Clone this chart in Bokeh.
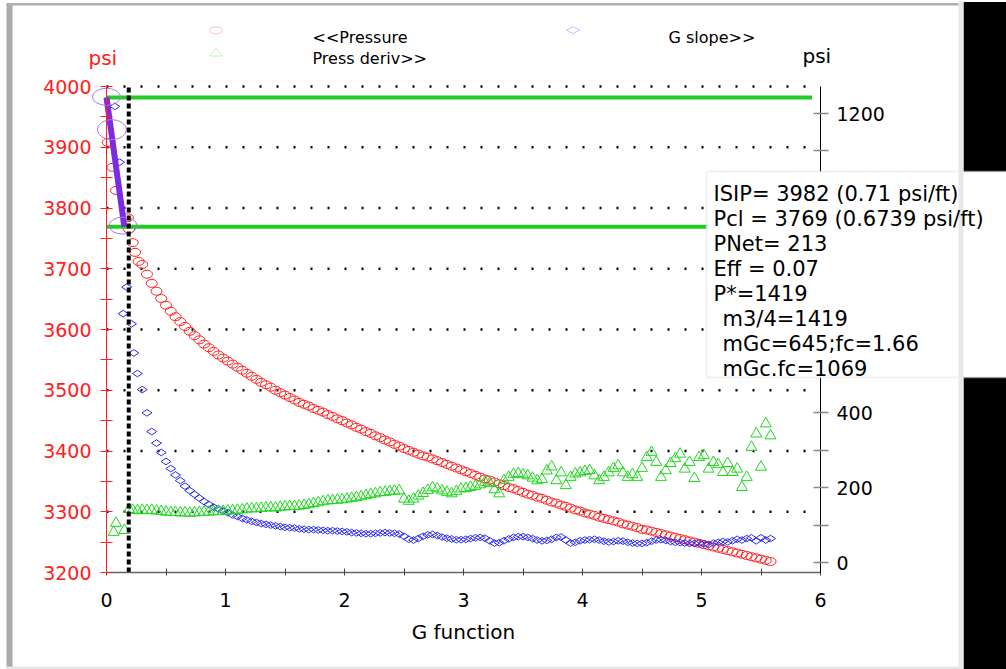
import numpy as np
from bokeh.plotting import figure
from bokeh.models import (Range1d, LinearAxis, FixedTicker, Label,
                          BoxAnnotation, PolyAnnotation, ColumnDataSource)
from bokeh.embed import file_html
from bokeh.resources import INLINE

# ---------------- data ----------------
# G-function sample positions shared by the three series (after the first few points)
g_main = [0.30, 0.34, 0.38, 0.42, 0.46, 0.50, 0.54, 0.58, 0.62, 0.66, 0.70, 0.74, 0.78, 0.82, 0.86, 0.90, 0.94, 0.98,
          1.02, 1.06, 1.10, 1.14, 1.18, 1.22, 1.26, 1.30, 1.34, 1.38, 1.42, 1.46, 1.50, 1.54, 1.58, 1.62, 1.66, 1.70,
          1.74, 1.78, 1.82, 1.86, 1.90, 1.94, 1.98,
          2.02, 2.06, 2.10, 2.14, 2.18, 2.22, 2.26, 2.30, 2.34, 2.38, 2.42, 2.46, 2.50, 2.54, 2.58, 2.62, 2.66, 2.70,
          2.74, 2.78, 2.82, 2.86, 2.90, 2.94, 2.98,
          3.02, 3.06, 3.10, 3.14, 3.18, 3.22, 3.26, 3.30, 3.34, 3.38, 3.42, 3.46, 3.50, 3.54, 3.58, 3.62, 3.66, 3.70,
          3.74, 3.78, 3.82, 3.86, 3.90, 3.94, 3.98,
          4.02, 4.06, 4.10, 4.14, 4.18, 4.22, 4.26, 4.30, 4.34, 4.38, 4.42, 4.46, 4.50, 4.54, 4.58, 4.62, 4.66, 4.70,
          4.74, 4.78, 4.82, 4.86, 4.90, 4.94, 4.98,
          5.02, 5.06, 5.10, 5.14, 5.18, 5.22, 5.26, 5.30, 5.34, 5.38, 5.42, 5.46, 5.50, 5.54, 5.58]

# Bottomhole pressure (psi, left axis)
pressure_early_g = [0.01, 0.05, 0.08, 0.18, 0.19, 0.22, 0.24, 0.27]
pressure_early = [3908, 3867, 3829, 3784, 3765, 3743, 3727, 3712]
pressure_main = [3707, 3691, 3676, 3663, 3651, 3640, 3630, 3621, 3613, 3605, 3597, 3590, 3583, 3576, 3570, 3564, 3558, 3553,
                 3548, 3543, 3538, 3533, 3528, 3523, 3518, 3513, 3509, 3505, 3500, 3496, 3492, 3488, 3484, 3480, 3477, 3474,
                 3470, 3467, 3464, 3460, 3457, 3453, 3450,
                 3446, 3443, 3439, 3436, 3432, 3429, 3425, 3422, 3418, 3415, 3411, 3408, 3404, 3401, 3398, 3395, 3392, 3390,
                 3387, 3384, 3381, 3378, 3375, 3372, 3369,
                 3366, 3363, 3360, 3357, 3354, 3352, 3349, 3346, 3343, 3340, 3338, 3335, 3332, 3329, 3327, 3324, 3322, 3319,
                 3316, 3314, 3311, 3309, 3306, 3303, 3301,
                 3298, 3296, 3294, 3291, 3289, 3287, 3285, 3283, 3280, 3278, 3276, 3274, 3271, 3270, 3268, 3266, 3264, 3262,
                 3260, 3258, 3256, 3254, 3252, 3250, 3248,
                 3246, 3244, 3242, 3240, 3238, 3236, 3234, 3232, 3230, 3228, 3226, 3224, 3222, 3220, 3218]

# G dP/dG (psi, right axis)
gslope_early_g = [0.07, 0.11, 0.14, 0.17, 0.21, 0.23, 0.26]
gslope_early = [1219, 1070, 665, 736, 638, 560, 505]
gslope_main = [462, 400, 350, 319, 294, 270, 251, 234, 219, 204, 192, 182, 172, 163, 155, 148, 143, 138,
               133, 127, 123, 118, 114, 110, 107, 104, 102, 100, 98, 96, 94, 93, 92, 90, 89, 88,
               88, 87, 86, 85, 85, 84, 83,
               82, 80, 79, 78, 77, 77, 78, 79, 80, 79, 78, 76, 70, 62, 60, 64, 70, 74,
               75, 72, 68, 65, 63, 61, 61,
               62, 64, 66, 67, 65, 58, 52, 53, 58, 63, 67, 69, 69, 67, 64, 60, 58, 59,
               62, 67, 68, 60, 52, 54, 58,
               60, 61, 62, 60, 57, 55, 56, 58, 57, 54, 52, 51, 51, 53, 57, 60, 61, 59,
               56, 54, 53, 52, 51, 51, 52,
               50, 48, 52, 54, 56, 55, 58, 62, 60, 64, 66, 58, 66, 60, 64]

# dP/dG (psi, right axis)
deriv_early_g = [0.06, 0.08, 0.15, 0.19, 0.22, 0.26]
deriv_early = [81, 105, 86, 142, 140, 139]
deriv_main = [140, 139, 140, 138, 137, 135, 134, 134, 133, 133, 132, 133, 134, 135, 135, 136, 137, 137,
              138, 139, 140, 141, 143, 144, 144, 145, 146, 147, 146, 148, 149, 150, 150, 151, 153, 155,
              158, 160, 163, 165, 166, 167, 168,
              170, 172, 174, 176, 179, 182, 184, 187, 188, 190, 191, 192, 170, 164, 170, 178, 185, 193,
              200, 197, 192, 188, 184, 190, 197,
              198, 201, 204, 208, 215, 212, 195, 184, 219, 228, 236, 238, 235, 232, 226, 219, 222, 245,
              256, 219, 240, 206, 228, 237, 240,
              244, 246, 232, 219, 228, 240, 252, 259, 240, 228, 235, 228, 252, 281, 295, 268, 228, 246,
              265, 278, 290, 250, 268, 225, 281,
              286, 250, 268, 262, 241, 265, 241, 250, 201, 228, 308, 344, 255, 371, 339]

# Interpretation results
isip = 3982
pcl = 3769
closure_g = 0.187
level_line_end_g = 5.93
fit_g = [0.0, 0.15]
fit_p = [isip, pcl]
pick_g = [0.0, 0.045, 0.139]
pick_p = [3983, 3929, 3771]

g_limits = (0, 6)
psi_limits = (3200, 4000)
left_ticks = [3200, 3300, 3400, 3500, 3600, 3700, 3800, 3900, 4000]
left_minor = [3250, 3350, 3450, 3550, 3650, 3750, 3850, 3950]
right_ticks = [0, 200, 400, 600, 800, 1000, 1200]
right_minor = [100, 300, 500, 700, 900, 1100]
x_ticks = [0, 1, 2, 3, 4, 5, 6]
x_minor = [0.5, 1.5, 2.5, 3.5, 4.5, 5.5]

summary_lines = ["ISIP= 3982 (0.71 psi/ft)", "Pcl = 3769 (0.6739 psi/ft)", "PNet= 213", "Eff = 0.07",
                 "P*=1419", "m3/4=1419", "mGc=645;fc=1.66", "mGc.fc=1069"]

# ---------------- page layout (pixels) ----------------
W, H = 1006, 669
AX_LEFT, AX_RIGHT = 106, 820          # G = 0 and G = 6
AX_TOP, AX_BOTTOM = 86, 572           # 4000 psi and 3200 psi
R_ZERO, R_1200 = 562, 113             # right-axis 0 and 1200

RED = "#FF2020"
BLUE = "#2A2AF0"
GREEN = "#1ED81E"
FONT = "DejaVu Sans"
TICK_SIZE = "19px"

gx = (AX_RIGHT - AX_LEFT) / (g_limits[1] - g_limits[0])
py = (AX_BOTTOM - AX_TOP) / (psi_limits[1] - psi_limits[0])
ry = (R_ZERO - R_1200) / 1200.0

x_range = Range1d(g_limits[0] - AX_LEFT / gx, g_limits[0] + (W - AX_LEFT) / gx)
y_range = Range1d(psi_limits[0] - (H - AX_BOTTOM) / py, psi_limits[1] + AX_TOP / py)
right_range = Range1d(-(H - R_ZERO) / ry, R_ZERO / ry)
right_bounds = (-(AX_BOTTOM - R_ZERO) / ry, (R_ZERO - AX_TOP) / ry)


def sx(cx):
    return cx


def sy(cy):
    return H - cy


p = figure(width=W, height=H, x_range=x_range, y_range=y_range,
           output_backend="svg", toolbar_location=None,
           x_axis_type=None, y_axis_type=None,
           min_border=0, background_fill_color="white", border_fill_color="white",
           outline_line_color=None)
p.extra_y_ranges = {"right": right_range}

# axes, pinned at the edges of the data area
xaxis = LinearAxis(ticker=FixedTicker(ticks=x_ticks, minor_ticks=x_minor), axis_label="G function",
                   fixed_location=psi_limits[0], bounds=g_limits)
xaxis.axis_line_color = "#666666"
xaxis.axis_line_width = 1.5
xaxis.major_tick_line_color = "#444444"
xaxis.minor_tick_line_color = "#444444"
xaxis.major_tick_in = 4
xaxis.major_tick_out = 3
xaxis.minor_tick_in = 4
xaxis.minor_tick_out = 3
xaxis.major_label_text_font = FONT
xaxis.major_label_text_font_size = TICK_SIZE
xaxis.major_label_text_color = "black"
xaxis.major_label_standoff = 17
xaxis.axis_label_text_font = FONT
xaxis.axis_label_text_font_size = "20px"
xaxis.axis_label_text_font_style = "normal"
xaxis.axis_label_text_color = "black"
xaxis.axis_label_standoff = 10
p.add_layout(xaxis, "below")

yleft = LinearAxis(ticker=FixedTicker(ticks=left_ticks, minor_ticks=left_minor),
                   fixed_location=g_limits[0], bounds=psi_limits)
yleft.axis_line_color = RED
yleft.major_tick_line_color = RED
yleft.minor_tick_line_color = RED
yleft.major_tick_in = 6
yleft.major_tick_out = 6
yleft.minor_tick_in = 6
yleft.minor_tick_out = 6
yleft.major_label_text_font = FONT
yleft.major_label_text_font_size = TICK_SIZE
yleft.major_label_text_color = RED
yleft.major_label_standoff = 9
p.add_layout(yleft, "left")

yright = LinearAxis(y_range_name="right", ticker=FixedTicker(ticks=right_ticks, minor_ticks=right_minor),
                    fixed_location=g_limits[1], bounds=right_bounds)
yright.axis_line_color = "black"
yright.major_tick_line_color = "#888888"
yright.minor_tick_line_color = "#888888"
yright.major_tick_line_width = 1.5
yright.minor_tick_line_width = 1.5
yright.major_tick_in = 7
yright.major_tick_out = 8
yright.minor_tick_in = 7
yright.minor_tick_out = 8
yright.major_label_text_font = FONT
yright.major_label_text_font_size = TICK_SIZE
yright.major_label_text_color = "black"
yright.major_label_standoff = 8
p.add_layout(yright, "right")

# dotted horizontal grid on the pressure ticks, limited to the G axis span
grid_y = left_ticks[1:]
p.segment(x0=[g_limits[0]] * len(grid_y), x1=[g_limits[1]] * len(grid_y), y0=grid_y, y1=grid_y,
          line_color="black", line_width=2.5, line_dash="2 15")

# series
p.ellipse(x=pressure_early_g + g_main, y=pressure_early + pressure_main, width=11, height=8,
          width_units="screen", height_units="screen", fill_alpha=0, line_color=RED, line_width=1)
p.scatter(x=gslope_early_g + g_main, y=gslope_early + gslope_main, marker="diamond", size=10,
          angle=np.pi / 2, fill_alpha=0, line_color=BLUE, line_width=1, y_range_name="right")
p.scatter(x=deriv_early_g + g_main, y=deriv_early + deriv_main, marker="triangle", size=11,
          fill_alpha=0, line_color=GREEN, line_width=1, y_range_name="right")

# ISIP / closure pressure levels
p.line(x=[0, level_line_end_g], y=[isip, isip], line_color="#22CC22", line_width=4)
p.line(x=[0, level_line_end_g], y=[pcl, pcl], line_color="#22CC22", line_width=4)
# early-time straight-line fit
p.line(x=fit_g, y=fit_p, line_color="#7B2BE2", line_width=6)
picks = ColumnDataSource(dict(x=pick_g, y=pick_p, w=[28, 29, 28], h=[17, 20, 17]))
p.ellipse(x="x", y="y", width="w", height="h", source=picks, width_units="screen", height_units="screen",
          fill_alpha=0, line_color="#A47BE6", line_width=1)

# closure time marker
p.segment(x0=[closure_g], x1=[closure_g], y0=[psi_limits[0]], y1=[psi_limits[1]],
          line_color="black", line_width=4, line_dash="5 3")


# page frame: grey borders and dark strip on the right
def screen_box(x0, y0, x1, y1, color, **kw):
    return BoxAnnotation(left=sx(x0), right=sx(x1), top=sy(y0), bottom=sy(y1),
                         left_units="screen", right_units="screen", top_units="screen", bottom_units="screen",
                         fill_color=color, fill_alpha=1, line_color=None, **kw)


p.add_layout(screen_box(6, 3, 12, 667, "#ABABAB"))
p.add_layout(screen_box(6, 2.5, 961, 5, "#B0B0B0"))
p.add_layout(screen_box(6, 666, 961, 669, "#E6E6E6"))
p.add_layout(screen_box(963, 1.5, 1006, 669, "black"))

# result box
result_box = BoxAnnotation(left=sx(706), right=sx(1012), top=sy(171), bottom=sy(377),
                           left_units="screen", right_units="screen", top_units="screen", bottom_units="screen",
                           fill_color="white", fill_alpha=1, line_color="#CFCFCF", line_width=2)
p.add_layout(result_box)
p.add_layout(screen_box(958, 0, 963, 669, "#E8E8E8"))

baselines = [193, 218, 243, 268, 293, 318, 343, 368]
for i, (txt, base) in enumerate(zip(summary_lines, baselines)):
    left = 713 if i < 5 else 722
    p.add_layout(Label(x=sx(left), y=sy(base), x_units="screen", y_units="screen", text=txt,
                       text_font=FONT, text_font_size="21px", text_color="black",
                       text_baseline="alphabetic", text_align="left"))

# axis unit captions
p.add_layout(Label(x=sx(88), y=sy(57), x_units="screen", y_units="screen", text="psi",
                   text_font=FONT, text_font_size="20px", text_color=RED, text_baseline="alphabetic"))
p.add_layout(Label(x=sx(802), y=sy(55), x_units="screen", y_units="screen", text="psi",
                   text_font=FONT, text_font_size="20px", text_color="black", text_baseline="alphabetic"))

# legend
t = np.linspace(0, 2 * np.pi, 40)
p.add_layout(PolyAnnotation(xs=list(sx(215.5) + 6.5 * np.cos(t)), ys=list(sy(30) + 3.5 * np.sin(t)),
                            xs_units="screen", ys_units="screen", fill_alpha=0, line_color=RED, line_width=1))
p.add_layout(PolyAnnotation(xs=[sx(209), sx(222), sx(215.5)], ys=[sy(55.5), sy(55.5), sy(48)],
                            xs_units="screen", ys_units="screen", fill_alpha=0, line_color=GREEN, line_width=1))
p.add_layout(PolyAnnotation(xs=[sx(566), sx(572.5), sx(579), sx(572.5)],
                            ys=[sy(29.7), sy(26.2), sy(29.7), sy(33.2)],
                            xs_units="screen", ys_units="screen", fill_alpha=0, line_color=BLUE, line_width=1))
for txt, cx, base in [("<<Pressure", 312, 37), ("Press deriv>>", 312, 58), ("G slope>>", 668, 37)]:
    p.add_layout(Label(x=sx(cx), y=sy(base), x_units="screen", y_units="screen", text=txt,
                       text_font=FONT, text_font_size="16px", text_color="black", text_baseline="alphabetic"))

open("out.html", "w").write(file_html(p, INLINE))
